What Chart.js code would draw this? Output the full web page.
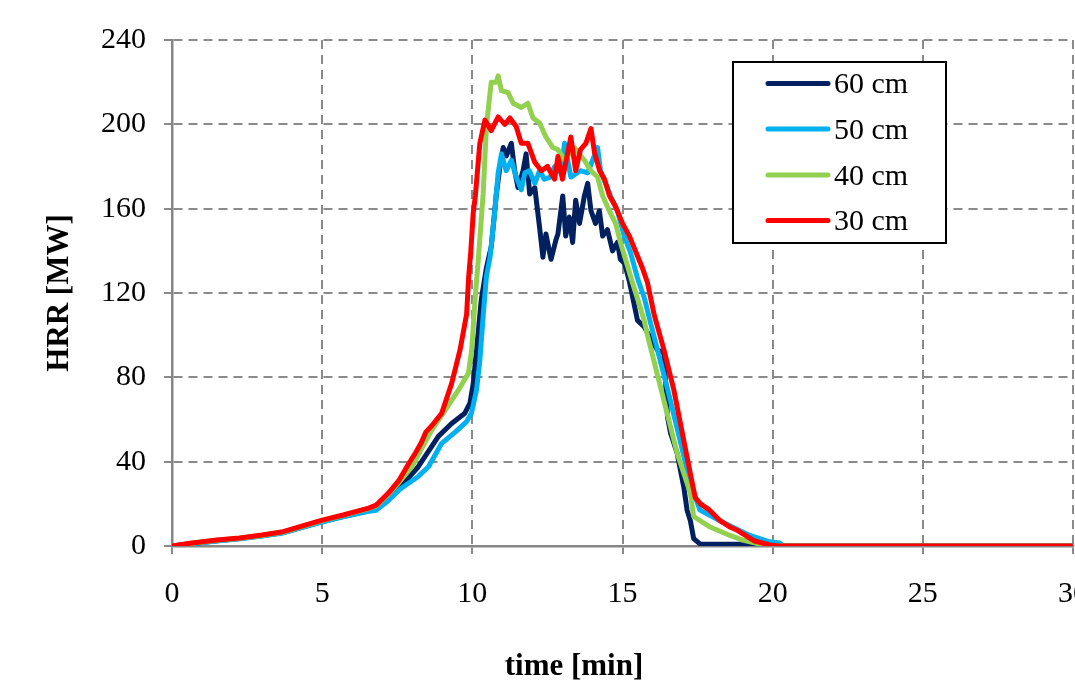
<!DOCTYPE html>
<html>
<head>
<meta charset="utf-8">
<title>HRR</title>
<script src="https://cdn.jsdelivr.net/npm/chart.js@4.4.1/dist/chart.umd.min.js"></script>
<style>
    html, body { margin: 0; padding: 0; background: #fff; overflow: hidden; }
    canvas { display: block; }
</style>
</head>
<body>
<canvas id="hrrChart" width="1110" height="685"></canvas>
<script>
// Data (time in min, HRR in MW)
const time60 = [0, 0.6, 1.5, 2.25, 3.0, 3.7, 4.35, 5.0, 5.7, 6.55, 6.8, 7.2, 7.6, 8.2, 8.87, 9.3, 9.75, 9.92, 10.03, 10.14, 10.3, 10.47, 10.63, 10.8, 10.92, 11.03, 11.13, 11.3, 11.41, 11.52, 11.69, 11.79, 11.91, 12.08, 12.24, 12.35, 12.45, 12.62, 12.78, 12.85, 13.01, 13.11, 13.23, 13.34, 13.44, 13.57, 13.73, 13.84, 13.95, 14.1, 14.23, 14.34, 14.5, 14.67, 14.83, 14.93, 15.07, 15.22, 15.5, 15.72, 16.16, 16.38, 16.5, 16.6, 16.82, 17.04, 17.15, 17.26, 17.37, 17.58, 20.0, 20.1, 30];
const hrr60 = [0, 1, 2.5, 3.5, 4.8, 6.4, 9, 11.6, 14, 16.8, 17.5, 22, 28, 37.6, 52, 58, 63, 67.7, 77, 93, 117, 132, 142, 167, 180, 189, 185, 191, 178, 170, 178, 186, 167, 170, 151, 137, 148, 136, 145, 148, 166, 147, 156, 144, 164, 153, 166, 172, 159, 153, 159, 147, 150, 140, 144, 136, 134, 126, 107, 104, 93, 91.6, 61, 53.6, 44, 28, 17, 12, 3.5, 1, 0.8, 0, 0];

const time50 = [0, 0.6, 1.5, 2.25, 3.0, 3.7, 4.35, 5.0, 5.7, 6.55, 6.78, 7.2, 7.6, 8.2, 8.54, 8.98, 9.43, 9.81, 9.97, 10.14, 10.25, 10.36, 10.47, 10.59, 10.75, 10.86, 10.97, 11.13, 11.3, 11.46, 11.63, 11.75, 11.9, 12.08, 12.24, 12.4, 12.6, 12.74, 12.95, 13.07, 13.28, 13.6, 13.84, 14.17, 14.27, 14.6, 14.83, 15.06, 15.27, 15.5, 15.72, 15.93, 16.49, 16.92, 17.25, 17.58, 18.37, 19.24, 19.9, 20.23, 20.35, 30];
const hrr50 = [0, 1, 2.4, 3.4, 4.7, 6.2, 8.8, 11.4, 13.9, 16.5, 16.8, 21.5, 27, 33, 37.6, 48.7, 54, 59, 63, 74, 88, 109, 128, 137, 159, 177, 186, 178, 183, 175, 169, 177, 178, 172, 178, 174, 175, 180, 177, 191, 175, 178, 177, 189, 178, 166, 159, 147, 139, 127, 118, 106, 75, 50, 30, 17, 11, 5, 2, 1.4, 0, 0];

const time40 = [0, 0.6, 1.5, 2.25, 3.0, 3.7, 4.35, 5.0, 5.7, 6.55, 6.8, 7.2, 7.55, 7.99, 8.3, 8.65, 9.1, 9.54, 9.87, 9.98, 10.09, 10.2, 10.36, 10.47, 10.59, 10.63, 10.8, 10.86, 10.97, 11.19, 11.36, 11.63, 11.85, 12.02, 12.24, 12.45, 12.68, 12.85, 13.07, 13.4, 13.73, 13.95, 14.17, 14.34, 14.56, 14.77, 14.93, 15.1, 15.33, 15.55, 15.72, 15.83, 16.38, 16.82, 17.26, 17.37, 17.92, 18.15, 18.58, 19.0, 19.24, 19.7, 20.0, 30];
const hrr40 = [0, 1.2, 2.7, 3.7, 5.0, 6.6, 9.3, 12, 14.5, 17.8, 19, 24.5, 30, 37.6, 46, 55, 64.5, 74, 82, 93, 117, 136, 167, 199, 215, 220, 220, 223, 216, 215, 210, 208, 210, 203, 200.6, 194, 189, 188, 183, 189, 183, 178, 175, 166, 159, 153, 144, 136, 125, 115, 107, 100, 69, 44, 25, 14, 9, 7.6, 5, 2.8, 2, 0.5, 0, 0];

const time30 = [0, 0.6, 1.5, 2.25, 3.0, 3.7, 4.35, 5.0, 5.7, 6.55, 6.8, 7.2, 7.55, 7.88, 8.1, 8.3, 8.45, 8.65, 8.98, 9.31, 9.59, 9.81, 9.88, 9.95, 10.03, 10.1, 10.25, 10.42, 10.63, 10.86, 11.08, 11.25, 11.46, 11.63, 11.85, 12.08, 12.3, 12.5, 12.74, 12.85, 13.0, 13.28, 13.44, 13.6, 13.78, 13.95, 14.07, 14.24, 14.4, 14.57, 14.77, 15.0, 15.23, 15.43, 15.66, 15.83, 16.05, 16.38, 16.71, 17.04, 17.25, 17.42, 17.6, 17.9, 18.25, 18.58, 18.8, 19.37, 19.9, 20.2, 30];
const hrr30 = [0, 1.3, 2.8, 3.8, 5.2, 6.8, 9.5, 12.3, 14.7, 18, 19.4, 25, 31, 39, 44, 49, 54, 57, 63, 77, 93, 110, 128, 140, 158, 166, 191, 202, 197, 203.5, 200, 203, 199, 191, 191, 182, 178, 180, 174, 184.7, 174, 194, 178, 188, 191, 198, 186.5, 178, 174, 166, 161, 153, 147, 140, 132, 125, 110, 93, 74, 50, 35, 23, 20, 17, 12, 9, 7.6, 2.5, 0.5, 0, 0];

const seriesLabels = ['60 cm', '50 cm', '40 cm', '30 cm'];
const seriesColors = ['#002060', '#00B0F0', '#92D050', '#FF0000'];

const xTicks = [0, 5, 10, 15, 20, 25, 30];
const yTicks = [0, 40, 80, 120, 160, 200, 240];

function toPoints(times, values) {
    return times.map((t, i) => ({ x: t, y: values[i] }));
}

// Legend box and x title drawn by hand, like the Excel ones
const boxLegend = {
    id: 'boxLegend',
    afterDraw(chart) {
        const ctx = chart.ctx;
        const left = 733, top = 62, w = 213, h = 181;
        ctx.save();
        ctx.fillStyle = '#fff';
        ctx.fillRect(left, top, w, h);
        ctx.lineWidth = 2;
        ctx.strokeStyle = '#000';
        ctx.strokeRect(left, top, w, h);
        const rows = [83.5, 129, 175, 220.5];
        ctx.font = '30px "Liberation Serif"';
        ctx.textBaseline = 'middle';
        ctx.textAlign = 'left';
        seriesLabels.forEach((label, i) => {
            ctx.strokeStyle = seriesColors[i];
            ctx.lineWidth = 5;
            ctx.lineCap = 'round';
            ctx.beginPath();
            ctx.moveTo(768, rows[i]);
            ctx.lineTo(828, rows[i]);
            ctx.stroke();
            ctx.fillStyle = '#000';
            ctx.fillText(label, 834, rows[i] + 2);
        });

        ctx.font = 'bold 31px "Liberation Serif"';
        ctx.textAlign = 'center';
        ctx.textBaseline = 'alphabetic';
        ctx.fillText('time [min]', 574, 675);
        ctx.restore();
    }
};

function renderChart() {
    const ctx = document.getElementById('hrrChart').getContext('2d');
    Chart.defaults.font.family = '"Liberation Serif", "Times New Roman", serif';
    Chart.defaults.color = '#000';

    const allTimes = [time60, time50, time40, time30];
    const allValues = [hrr60, hrr50, hrr40, hrr30];

    new Chart(ctx, {
        type: 'line',
        data: {
            datasets: seriesLabels.map((label, i) => ({
                label: label,
                data: toPoints(allTimes[i], allValues[i]),
                borderColor: seriesColors[i],
                borderWidth: 5,
                pointRadius: 0,
                tension: 0,
                borderJoinStyle: 'round',
                order: 4 - i
            }))
        },
        options: {
            responsive: false,
            animation: false,
            layout: { padding: { left: 0, top: 40, right: 32.4, bottom: 0 } },
            plugins: {
                legend: { display: false },
                tooltip: { enabled: false }
            },
            scales: {
                x: {
                    type: 'linear',
                    min: 0,
                    max: 30,
                    afterBuildTicks: (scale) => { scale.ticks = xTicks.map(v => ({ value: v })); },
                    afterFit: (scale) => { scale.height = 139; },
                    ticks: { font: { size: 30 }, padding: 22, maxRotation: 0 },
                    grid: { color: '#8a8a8a', lineWidth: 2, tickLength: 8, tickColor: '#8a8a8a', tickBorderDash: [] },
                    border: { color: '#868686', width: 2.5, dash: [9, 6] }
                },
                y: {
                    min: 0,
                    max: 240,
                    afterBuildTicks: (scale) => { scale.ticks = yTicks.map(v => ({ value: v })); },
                    afterFit: (scale) => { scale.width = 172; },
                    ticks: { font: { size: 30 }, padding: 18 },
                    grid: { color: '#8a8a8a', lineWidth: 2, tickLength: 8, tickColor: '#8a8a8a', tickBorderDash: [] },
                    border: { color: '#868686', width: 2.5, dash: [9, 6] },
                    title: { display: true, text: 'HRR [MW]', font: { size: 31, weight: 'bold' }, padding: { top: 41, bottom: 0 } }
                }
            }
        },
        plugins: [boxLegend]
    });
}

window.onload = renderChart;
</script>
</body>
</html>
